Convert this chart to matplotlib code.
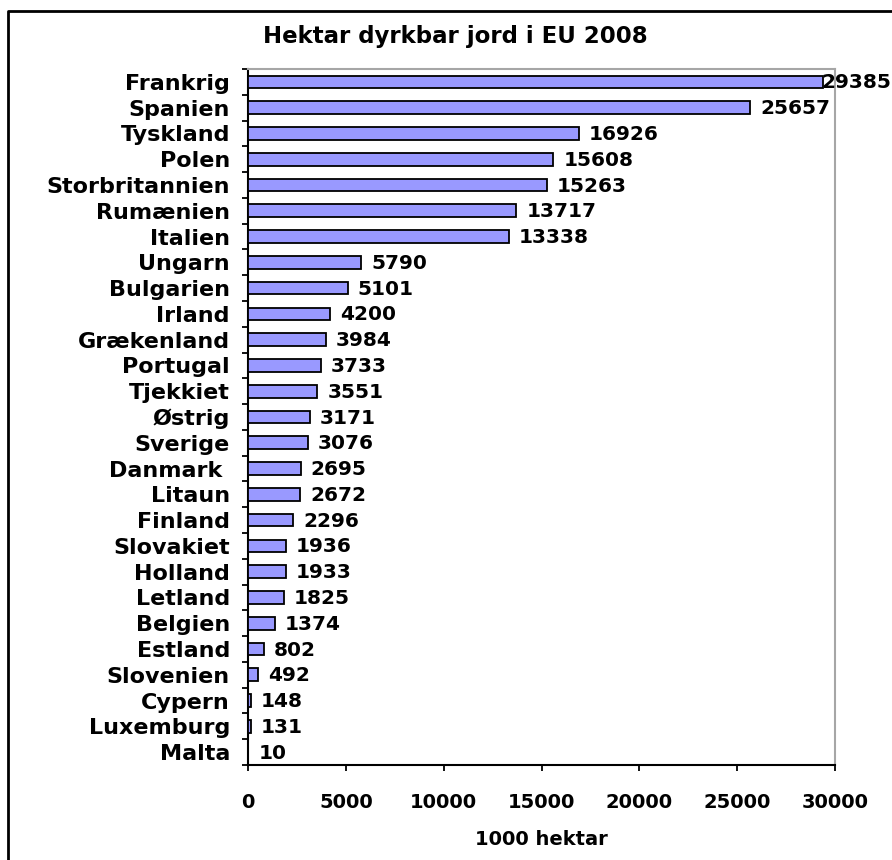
import matplotlib.pyplot as plt
from matplotlib.lines import Line2D
from matplotlib.ticker import FixedLocator, NullFormatter

countries = ["Frankrig", "Spanien", "Tyskland", "Polen", "Storbritannien",
             "Rumænien", "Italien", "Ungarn", "Bulgarien", "Irland",
             "Grækenland", "Portugal", "Tjekkiet", "Østrig", "Sverige",
             "Danmark ", "Litaun", "Finland", "Slovakiet", "Holland",
             "Letland", "Belgien", "Estland", "Slovenien", "Cypern",
             "Luxemburg", "Malta"]
hectares = [29385, 25657, 16926, 15608, 15263, 13717, 13338, 5790, 5101,
            4200, 3984, 3733, 3551, 3171, 3076, 2695, 2672, 2296, 1936,
            1933, 1825, 1374, 802, 492, 148, 131, 10]
x_ticks = [0, 5000, 10000, 15000, 20000, 25000, 30000]

W, H, DPI = 892, 860, 100
FONT = "DejaVu Sans"

fig = plt.figure(figsize=(W / DPI, H / DPI), dpi=DPI)
ax = fig.add_axes([248 / W, 1 - 765 / H, (835 - 248) / W, (765 - 69) / H])

n = len(countries)
ypos = list(range(n))
ax.barh(ypos, hectares, height=0.49, color="#9999FF",
        edgecolor="black", linewidth=1.3, zorder=3)

ax.set_xlim(0, 30000)
ax.set_ylim(n - 0.5, -0.5)

# category labels at bar centres, tick marks on the category boundaries
ax.set_yticks(ypos)
ax.set_yticklabels(countries, fontsize=16, fontweight="bold", family=FONT)
ax.yaxis.set_minor_locator(FixedLocator([i - 0.5 for i in range(n + 1)]))
ax.yaxis.set_minor_formatter(NullFormatter())
ax.tick_params(axis="y", which="major", length=0, pad=13)
ax.tick_params(axis="y", which="minor", length=4.5, width=1.3, direction="out")

ax.set_xticks(x_ticks)
ax.set_xticklabels([str(t) for t in x_ticks], fontsize=14, fontweight="bold",
                   family=FONT)
ax.tick_params(axis="x", length=4, width=1.3, direction="out", pad=16)
ax.set_xlabel("1000 hektar", fontsize=14, fontweight="bold", family=FONT,
              labelpad=13)

for side in ("left", "bottom"):
    ax.spines[side].set_color("black")
    ax.spines[side].set_linewidth(1.5)
for side in ("top", "right"):
    ax.spines[side].set_color("#A6A6A6")
    ax.spines[side].set_linewidth(1.5)

# value labels; one that would run past the canvas is pushed back against its bar
px_per_unit = (835 - 248) / 30000
room = (W - 248) / px_per_unit
for y, v in zip(ypos, hectares):
    if v + (10 + 72) / px_per_unit < room:
        ax.annotate(str(v), xy=(v, y), xytext=(10, -1),
                    textcoords="offset pixels", va="center", ha="left",
                    fontsize=14.5, fontweight="bold", family=FONT, zorder=4)
    else:
        ax.annotate(str(v), xy=(1.0, y), xycoords=("figure fraction", "data"),
                    xytext=(-1, -1), textcoords="offset pixels",
                    va="center", ha="right",
                    fontsize=14.5, fontweight="bold", family=FONT, zorder=4)

fig.text(455 / W, 1 - 37 / H, "Hektar dyrkbar jord i EU 2008",
         ha="center", va="center", fontsize=16.5, fontweight="bold",
         family=FONT)

# outer chart frame (top and left edges)
fig.add_artist(Line2D([8 / W, 8 / W, 1.05], [-0.05, 1 - 11 / H, 1 - 11 / H],
                      transform=fig.transFigure, color="black", linewidth=2))

fig.savefig("out.png", dpi=DPI)
